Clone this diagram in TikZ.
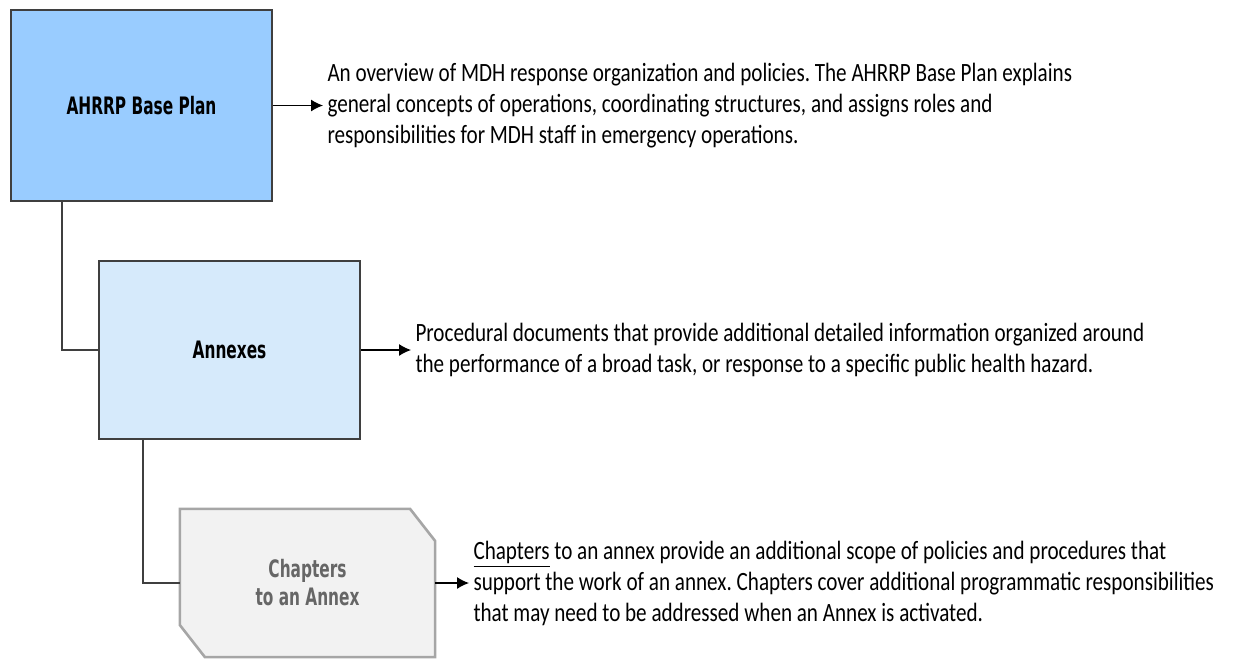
\documentclass[tikz,border=0pt]{standalone}
\usepackage{fontspec}
\setmainfont{Carlito}
\newfontfamily\descfont[FakeStretch=0.8]{Carlito}
\newfontfamily\boxfont[FakeStretch=0.64]{DejaVu Sans}
\usetikzlibrary{arrows.meta,positioning,backgrounds}

\definecolor{boxline}{HTML}{3F3F3F}
\definecolor{baseblue}{HTML}{99CCFF}
\definecolor{annexblue}{HTML}{D6EAFB}
\definecolor{chapterfill}{HTML}{F2F2F2}
\definecolor{chapterline}{HTML}{A6A6A6}
\definecolor{chaptertext}{HTML}{666666}
\frenchspacing

\begin{document}
\begin{tikzpicture}[
		x=0.5pt, y=-0.5pt,
		node distance=25pt,
		block/.style={draw=boxline, line width=1.1pt, inner sep=0pt, align=center, font=\boxfont\bfseries\fontsize{12}{14}\selectfont},
		desc/.style={inner sep=2pt, align=left, font=\descfont\fontsize{13.2}{15.5}\selectfont},
		link/.style={draw=boxline, line width=0.9pt},
		pointer/.style={draw=black, line width=0.8pt, -{Latex[length=6pt, width=6pt]}},
	]
		\useasboundingbox (0,0) rectangle (1245,666);

		\node (base plan) [block, fill=baseblue, minimum width=130.5pt, minimum height=95.5pt] at (141.5,105.5) {AHRRP Base Plan};
		\node (annexes) [block, fill=annexblue, minimum width=130.5pt, minimum height=89pt] at (229.5,350) {Annexes};
		\node (chapters) [block, draw=none, text=chaptertext, minimum width=126.5pt, minimum height=73pt] at (307.5,583) {Chapters\\to an Annex};
		% cut corners of the chapter box
		\begin{pgfonlayer}{background}
			\draw[draw=chapterline, fill=chapterfill, line width=1.3pt] ([xshift=-12.5pt]chapters.north east) -- ([yshift=-16pt]chapters.north east) -- (chapters.south east) -- ([xshift=12.5pt]chapters.south west) -- ([yshift=16pt]chapters.south west) -- (chapters.north west) -- cycle;
		\end{pgfonlayer}

		\node (base desc) [desc, anchor=west, right=of base plan] {An overview of MDH response organization and policies. The AHRRP Base Plan explains\\general concepts of operations, coordinating structures, and assigns roles and\\responsibilities for MDH staff in emergency operations.};
		\node (annex desc) [desc, anchor=west, right=of annexes] {Procedural documents that provide additional detailed information organized around\\the performance of a broad task, or response to a specific public health hazard.};
		\node (chapter desc) [desc, anchor=west, right=17pt of chapters] {\underline{Chapters} to an annex provide an additional scope of policies and procedures that\\support the work of an annex. Chapters cover additional programmatic responsibilities\\that may need to be addressed when an Annex is activated.};

		\draw[pointer] (base plan) -- (base desc);
		\draw[pointer] (annexes) -- (annex desc);
		\draw[pointer] (chapters) -- (chapter desc);

		\draw[link] ([xshift=26pt]base plan.south west) |- (annexes.west);
		\draw[link] ([xshift=22.5pt]annexes.south west) |- (chapters.west);
	\end{tikzpicture}
\end{document}
